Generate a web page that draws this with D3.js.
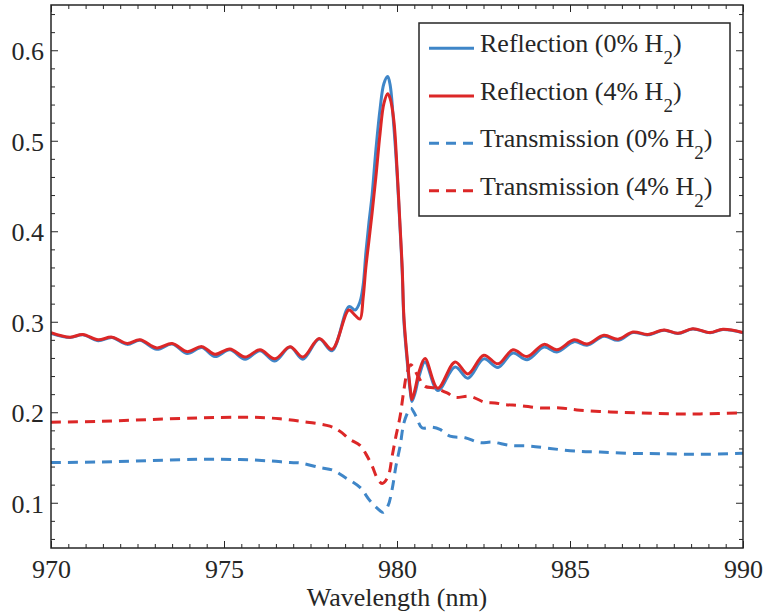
<!DOCTYPE html>
<html>
<head>
<meta charset="utf-8">
<script src="https://cdn.jsdelivr.net/npm/d3@7"></script>
<style>
  html, body { margin: 0; padding: 0; background: #fff; }
  svg text { font-family: "Liberation Serif", "Times New Roman", serif; fill: #262626; }
</style>
</head>
<body>
<svg id="chart" width="766" height="615"></svg>
<script>
// Wavelength samples (nm) for the reflection spectra
const reflWavelength = [
  970.00, 970.55, 970.92, 971.36, 971.76, 972.20, 972.57, 973.06, 973.50, 973.93,
  974.36, 974.74, 975.17, 975.61, 976.04, 976.47, 976.91, 977.28, 977.75, 978.12,
  978.61, 978.79, 978.93, 979.02, 979.10, 979.19, 979.28, 979.39, 979.51, 979.62,
  979.73, 979.80, 979.91, 980.00, 980.09, 980.15, 980.20, 980.29, 980.38, 980.43,
  980.52, 980.64, 980.81, 981.18, 981.68, 982.05, 982.51, 982.92, 983.35, 983.76,
  984.25, 984.62, 985.12, 985.49, 985.98, 986.39, 986.82, 987.25, 987.72, 988.12,
  988.55, 989.05, 989.42, 990.00
];
// Reflection, 0% H2
const reflection0 = [
  0.287, 0.2825, 0.2855, 0.279, 0.2825, 0.275, 0.2795, 0.2695, 0.2755, 0.265,
  0.2715, 0.2615, 0.269, 0.2585, 0.268, 0.2565, 0.272, 0.2586, 0.281, 0.268,
  0.3167, 0.313, 0.322, 0.34, 0.376, 0.41, 0.44, 0.49, 0.535, 0.563,
  0.571, 0.562, 0.515, 0.465, 0.402, 0.356, 0.301, 0.258, 0.224, 0.212,
  0.221, 0.240, 0.2556, 0.224, 0.250, 0.2377, 0.259, 0.2495, 0.2655, 0.258,
  0.272, 0.2665, 0.278, 0.274, 0.284, 0.2795, 0.288, 0.2855, 0.2905, 0.287,
  0.292, 0.2878, 0.2915, 0.2878
];
// Reflection, 4% H2
const reflection4 = [
  0.288, 0.283, 0.286, 0.280, 0.283, 0.276, 0.280, 0.271, 0.276, 0.267,
  0.2725, 0.264, 0.270, 0.261, 0.269, 0.259, 0.2725, 0.261, 0.2816, 0.2696,
  0.313, 0.307, 0.303, 0.326, 0.36, 0.39, 0.42, 0.46, 0.508, 0.541,
  0.552, 0.547, 0.522, 0.47, 0.405, 0.36, 0.305, 0.262, 0.227, 0.214,
  0.225, 0.245, 0.2593, 0.2266, 0.2556, 0.2424, 0.263, 0.2535, 0.269, 0.2615,
  0.275, 0.269, 0.280, 0.2755, 0.285, 0.2807, 0.2887, 0.286, 0.2909, 0.2873,
  0.2923, 0.288, 0.2917, 0.288
];

// Transmission, 0% H2
const trans0Wavelength = [
  970.00, 971.42, 972.86, 974.31, 975.46, 976.33, 976.91, 977.20, 977.77, 978.15,
  978.50, 978.93, 979.22, 979.51, 979.60, 979.74, 979.86, 979.97, 980.09, 980.20,
  980.35, 980.40, 980.55, 980.72, 981.01, 981.24, 981.53, 981.97, 982.40, 982.75,
  983.27, 983.84, 984.42, 985.14, 985.87, 986.73, 987.60, 988.76, 990.00
];
const transmission0 = [
  0.1444, 0.145, 0.1466, 0.148, 0.1477, 0.1462, 0.1444, 0.1440, 0.1389, 0.136,
  0.128, 0.1169, 0.1022, 0.0912, 0.0894, 0.0967, 0.115, 0.1407, 0.1626, 0.1883,
  0.2029, 0.2048, 0.1956, 0.1829, 0.1835, 0.181, 0.1736, 0.1718, 0.1663, 0.167,
  0.1634, 0.1626, 0.160, 0.1571, 0.156, 0.1546, 0.1542, 0.1535, 0.1546
];

// Transmission, 4% H2
const trans4Wavelength = [
  970.00, 971.42, 972.86, 974.31, 975.46, 976.18, 976.62, 977.20, 978.06, 978.35,
  978.64, 978.93, 979.10, 979.28, 979.45, 979.57, 979.74, 979.86, 979.97, 980.09,
  980.20, 980.29, 980.40, 980.61, 980.81, 981.10, 981.45, 981.68, 982.11, 982.54,
  982.83, 983.12, 983.55, 984.13, 984.71, 985.29, 986.16, 987.02, 987.89, 988.76,
  990.00
];
const transmission4 = [
  0.189, 0.190, 0.192, 0.1938, 0.1945, 0.194, 0.1927, 0.190, 0.1846, 0.179,
  0.170, 0.1634, 0.154, 0.1407, 0.1256, 0.1213, 0.1287, 0.1516, 0.1736, 0.1956,
  0.2249, 0.2432, 0.2524, 0.2396, 0.2286, 0.2268, 0.2213, 0.2165, 0.2176, 0.211,
  0.2103, 0.2085, 0.2074, 0.2048, 0.2048, 0.2022, 0.2004, 0.1993, 0.1982, 0.1982,
  0.1993
];

const xTicks = [970, 975, 980, 985, 990];
const yTicks = [0.1, 0.2, 0.3, 0.4, 0.5, 0.6];
const xLabel = "Wavelength (nm)";
const legendLabels = ["Reflection (0% H", "Reflection (4% H", "Transmission (0% H", "Transmission (4% H"];
const legendSub = "2";
const legendClose = ")";

const BLUE = "#3f86c8";
const RED = "#dc2727";
const SERIF = "'Liberation Serif', 'Times New Roman', Times, serif";

const svg = d3.select("#chart");
const plot = { left: 51, right: 743, top: 5, bottom: 548 };

const x = d3.scaleLinear().domain([970, 990]).range([plot.left, plot.right]);
const y = d3.scaleLinear().domain([0.05, 0.65]).range([plot.bottom, plot.top]);

// Minor tick positions
const xMinor = d3.range(0, 41).map(i => 970 + i * 0.5).filter(v => Math.abs(v / 5 - Math.round(v / 5)) > 1e-6);
const yMinor = d3.range(3, 33).map(i => +(i * 0.02).toFixed(2)).filter(v => Math.abs(v * 10 - Math.round(v * 10)) > 1e-6);

const tickColor = "#262626";

function styleAxis(g) {
  g.attr("font-family", SERIF);
  g.select(".domain").remove();
  g.selectAll(".tick line").attr("stroke", tickColor).attr("stroke-width", 1);
}

// Bottom and top axes (ticks point inward)
svg.append("g").attr("transform", `translate(0,${plot.bottom})`)
  .call(d3.axisBottom(x).tickValues(xMinor).tickSize(-4).tickFormat(""))
  .call(styleAxis);
svg.append("g").attr("transform", `translate(0,${plot.top})`)
  .call(d3.axisTop(x).tickValues(xMinor).tickSize(-4).tickFormat(""))
  .call(styleAxis);
const gxb = svg.append("g").attr("transform", `translate(0,${plot.bottom})`)
  .call(d3.axisBottom(x).tickValues(xTicks).tickSize(-7).tickFormat(d3.format("d")))
  .call(styleAxis);
gxb.selectAll(".tick text")
  .attr("y", 30).attr("dy", null)
  .attr("font-size", 26).attr("fill", tickColor)
  .style("font-family", SERIF);
svg.append("g").attr("transform", `translate(0,${plot.top})`)
  .call(d3.axisTop(x).tickValues(xTicks).tickSize(-7).tickFormat(""))
  .call(styleAxis);

// Left and right axes
svg.append("g").attr("transform", `translate(${plot.left},0)`)
  .call(d3.axisLeft(y).tickValues(yMinor).tickSize(-4).tickFormat(""))
  .call(styleAxis);
svg.append("g").attr("transform", `translate(${plot.right},0)`)
  .call(d3.axisRight(y).tickValues(yMinor).tickSize(-4).tickFormat(""))
  .call(styleAxis);
const gyl = svg.append("g").attr("transform", `translate(${plot.left},0)`)
  .call(d3.axisLeft(y).tickValues(yTicks).tickSize(-7).tickFormat(d3.format(".1f")))
  .call(styleAxis);
gyl.selectAll(".tick text")
  .attr("x", -7).attr("dy", null).attr("y", 9.5)
  .attr("font-size", 26).attr("fill", tickColor)
  .style("font-family", SERIF);
svg.append("g").attr("transform", `translate(${plot.right},0)`)
  .call(d3.axisRight(y).tickValues(yTicks).tickSize(-7).tickFormat(""))
  .call(styleAxis);

// Clip for data curves
svg.append("defs").append("clipPath").attr("id", "plotClip")
  .append("rect")
  .attr("x", plot.left).attr("y", plot.top)
  .attr("width", plot.right - plot.left).attr("height", plot.bottom - plot.top);

const line = d3.line()
  .x(d => x(d[0]))
  .y(d => y(d[1]))
  .curve(d3.curveCatmullRom.alpha(0.5));

const series = [
  { wl: reflWavelength, v: reflection0, color: BLUE, dash: null },
  { wl: reflWavelength, v: reflection4, color: RED, dash: null },
  { wl: trans0Wavelength, v: transmission0, color: BLUE, dash: "10,7" },
  { wl: trans4Wavelength, v: transmission4, color: RED, dash: "10,7" }
];

const curves = svg.append("g").attr("clip-path", "url(#plotClip)");
series.forEach(s => {
  curves.append("path")
    .datum(s.wl.map((w, i) => [w, s.v[i]]))
    .attr("d", line)
    .attr("fill", "none")
    .attr("stroke", s.color)
    .attr("stroke-width", 3)
    .attr("stroke-linejoin", "round")
    .attr("stroke-dasharray", s.dash);
});

// Plot frame
svg.append("rect")
  .attr("x", plot.left).attr("y", plot.top)
  .attr("width", plot.right - plot.left).attr("height", plot.bottom - plot.top)
  .attr("fill", "none").attr("stroke", tickColor).attr("stroke-width", 1.5);

// X axis title
svg.append("text")
  .attr("x", (plot.left + plot.right) / 2).attr("y", 606)
  .attr("text-anchor", "middle").attr("font-size", 26)
  .style("font-family", SERIF)
  .text(xLabel);

// Legend
const legend = svg.append("g").attr("font-family", SERIF);
legend.append("rect")
  .attr("x", 419).attr("y", 23).attr("width", 311).attr("height", 193)
  .attr("fill", "#fff").attr("stroke", tickColor).attr("stroke-width", 1.5);

const rowY = [48.3, 96, 143.3, 190.7];
series.forEach((s, i) => {
  legend.append("line")
    .attr("x1", 429).attr("x2", 474)
    .attr("y1", rowY[i]).attr("y2", rowY[i])
    .attr("stroke", s.color).attr("stroke-width", 3)
    .attr("stroke-dasharray", s.dash);
  const t = legend.append("text")
    .attr("x", 480).attr("y", rowY[i] + 4)
    .attr("font-size", 26)
    .style("font-family", SERIF);
  t.append("tspan").text(legendLabels[i]);
  t.append("tspan").attr("font-size", 19).attr("dy", 12).text(legendSub);
  t.append("tspan").attr("dy", -12).text(legendClose);
});
</script>
</body>
</html>
